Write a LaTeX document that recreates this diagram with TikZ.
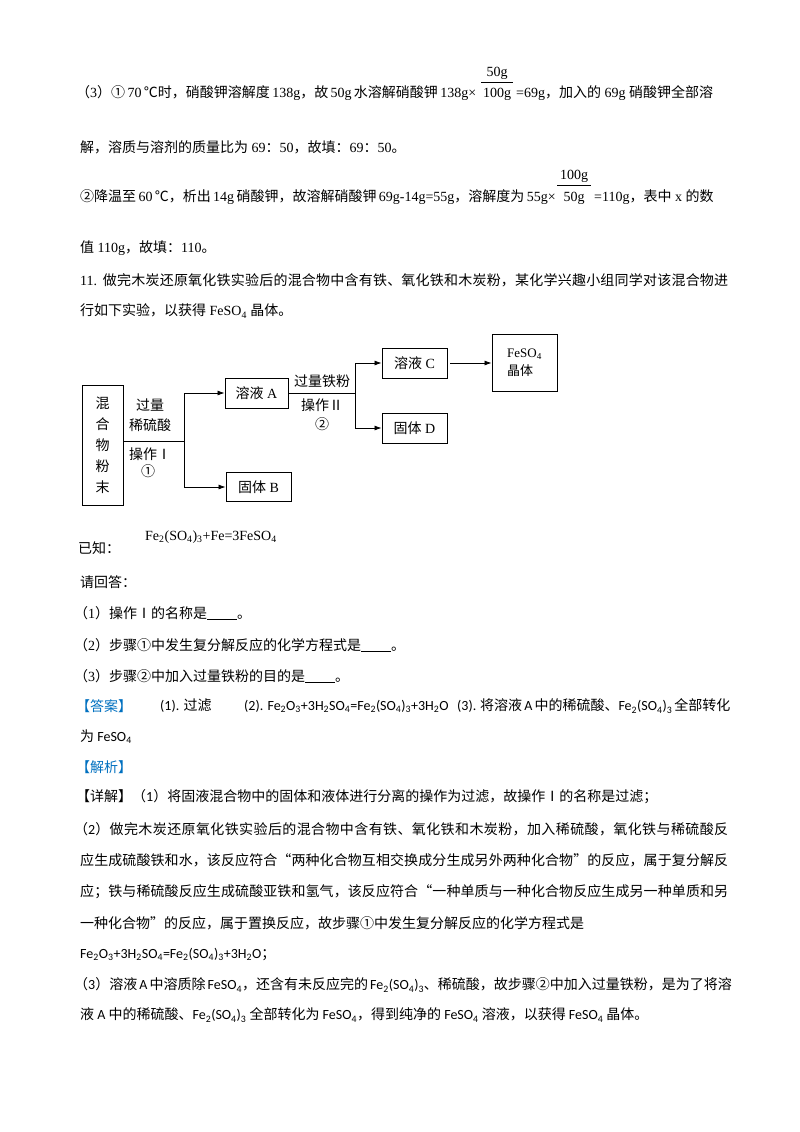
\documentclass[tikz,border=0pt]{standalone}
\usepackage{fontspec}
\usetikzlibrary{arrows.meta}
\setmainfont{Liberation Serif}
\setsansfont{Carlito}
\newfontfamily\cjk{Noto Sans CJK SC}
\let\lat\rmfamily
\newXeTeXintercharclass\CJKcls
\count255="3000
\loop\XeTeXcharclass\count255=\CJKcls\ifnum\count255<"9FFF\advance\count255 by 1\repeat
\count255="FF00
\loop\XeTeXcharclass\count255=\CJKcls\ifnum\count255<"FFEF\advance\count255 by 1\repeat
\count255="2460
\loop\XeTeXcharclass\count255=\CJKcls\ifnum\count255<"2473\advance\count255 by 1\repeat
\count255="2160
\loop\XeTeXcharclass\count255=\CJKcls\ifnum\count255<"216F\advance\count255 by 1\repeat
\XeTeXcharclass"201C=\CJKcls
\XeTeXcharclass"201D=\CJKcls
\XeTeXcharclass"2103=\CJKcls
\XeTeXinterchartoks 0 \CJKcls={\cjk}
\XeTeXinterchartoks 4095 \CJKcls={\cjk}
\XeTeXinterchartoks \CJKcls 0={\lat}
\XeTeXinterchartoks \CJKcls 4095={\lat}
\XeTeXinterchartoks \CJKcls \CJKcls={\hskip0pt plus 1pt\relax}
\XeTeXinterchartokenstate=1
\newcommand\sbs[1]{\textsubscript{#1}}
\newcommand\blank{\rule[-1pt]{30pt}{0.5pt}}
\definecolor{ansblue}{RGB}{0,112,192}
\begin{document}
\begin{tikzpicture}[x=1pt,y=-1pt,
  txt/.style={anchor=west,inner sep=0pt,font=\fontsize{14}{16}\selectfont},
  stxt/.style={anchor=west,inner sep=0pt,font={\fontsize{14}{16}\selectfont\sffamily\def\lat{\sffamily}}},
  ftxt/.style={inner sep=0pt,font=\fontsize{14}{16}\selectfont},
  bx/.style={draw,line width=0.9pt,inner sep=0pt},
  arr/.style={-{Latex[length=7pt,width=5pt]},line width=0.8pt},
  ln/.style={line width=0.8pt}]
\useasboundingbox (0,0) rectangle (800,1132);
\fill[white] (0,0) rectangle (800,1132);
\newcommand\jl[3]{\node[txt] (j#2) at (#1,#2) {\makebox[\dimexpr728pt-#1pt\relax][s]{#3}};}
\newcommand\sjl[3]{\node[stxt] (s#2) at (#1,#2) {\makebox[\dimexpr728pt-#1pt\relax][s]{#3}};}
% top part
\node[txt] (l1) at (76,93) {\makebox[400pt][s]{（3）① 70 ℃时，硝酸钾溶解度 138g，故 50g 水溶解硝酸钾 138g×}};
\node[ftxt] (f1a) at (497,73) {50g};
\node[ftxt] (f1b) at (497,94) {100g};
\draw[line width=0.6pt] (481,82) -- (513,82);
\node[txt] (l1b) at (516,93) {=69g，加入的 69g 硝酸钾全部溶};
\node[txt] (l2) at (80,147) {解，溶质与溶剂的质量比为 69：50，故填：69：50。};
\node[txt] (l3) at (80,197) {\makebox[474pt][s]{②降温至 60 ℃，析出 14g 硝酸钾，故溶解硝酸钾 69g-14g=55g，溶解度为 55g×}};
\node[ftxt] (f2a) at (574,176) {100g};
\node[ftxt] (f2b) at (574,198) {50g};
\draw[line width=0.6pt] (557,185) -- (591,185);
\node[txt] (l3b) at (594,197) {=110g，表中 x 的数};
\node[txt] (l4) at (80,248) {值 110g，故填：110。};
\jl{80}{280}{11. 做完木炭还原氧化铁实验后的混合物中含有铁、氧化铁和木炭粉，某化学兴趣小组同学对该混合物进}
\node[txt] (l6) at (80,311) {行如下实验，以获得 FeSO\sbs{4} 晶体。};
% flowchart
\node[bx,minimum width=41pt,minimum height=120pt,align=center,font=\fontsize{14}{21}\selectfont] (mix) at (102.5,445) {混\\合\\物\\粉\\末};
\node[bx,minimum width=63pt,minimum height=30pt,font=\fontsize{14}{16}\selectfont] (A) at (256.5,393) {溶液 A};
\node[bx,minimum width=65pt,minimum height=29pt,font=\fontsize{14}{16}\selectfont] (B) at (258.5,487) {固体 B};
\node[bx,minimum width=65pt,minimum height=30pt,font=\fontsize{14}{16}\selectfont] (C) at (414.5,363) {溶液 C};
\node[bx,minimum width=65pt,minimum height=30pt,font=\fontsize{14}{16}\selectfont] (D) at (414.5,428) {固体 D};
\node[bx,minimum width=65pt,minimum height=57pt,align=left,font=\fontsize{13}{18}\selectfont] (F) at (524.5,362.5) {FeSO\sbs{4}\\晶体};
\coordinate (j1) at (184,441);
\coordinate (j1a) at (184,393);
\coordinate (j1b) at (184,487);
\draw[ln] (mix.east|-j1) -- (j1);
\draw[ln] (j1a) -- (j1b);
\draw[arr] (j1a) -- (A.west);
\draw[arr] (j1b) -- (B.west);
\coordinate (j2) at (355,393);
\coordinate (j2a) at (355,363);
\coordinate (j2b) at (355,428);
\draw[ln] (A.east) -- (j2);
\draw[ln] (j2a) -- (j2b);
\draw[arr] (j2a) -- (C.west);
\draw[arr] (j2b) -- (D.west);
\draw[arr] ([xshift=3pt]C.east) -- (F.west|-C.east);
\node[ftxt] (t1) at (150,405) {过量};
\node[ftxt] (t2) at (150,425) {稀硫酸};
\node[ftxt] (t3) at (150,454) {操作Ⅰ};
\node[ftxt] (t4) at (148,471) {①};
\node[ftxt] (t5) at (322,381) {过量铁粉};
\node[ftxt] (t6) at (322,405) {操作Ⅱ};
\node[ftxt] (t7) at (322,424) {②};
\node[txt] (yz) at (78,548) {已知：};
\node[txt] (eq) at (145,537) {Fe\sbs{2}(SO\sbs{4})\sbs{3}+Fe=3FeSO\sbs{4}};
\node[txt] (q0) at (80,582) {请回答：};
\node[txt] (q1) at (74,613) {（1）操作Ⅰ的名称是\blank。};
\node[txt] (q2) at (74,645) {（2）步骤①中发生复分解反应的化学方程式是\blank。};
\node[txt] (q3) at (74,676) {（3）步骤②中加入过量铁粉的目的是\blank。};
% answer
\node[stxt,text=ansblue] (a0) at (76,706) {【答案】};
\node[stxt] (a1) at (160,706) {(1). 过滤};
\node[stxt] (a2) at (244,706) {(2). Fe\sbs{2}O\sbs{3}+3H\sbs{2}SO\sbs{4}=Fe\sbs{2}(SO\sbs{4})\sbs{3}+3H\sbs{2}O};
\node[stxt] (a3) at (457,706) {\makebox[271pt][s]{(3). 将溶液 A 中的稀硫酸、Fe\sbs{2}(SO\sbs{4})\sbs{3} 全部转化}};
\node[stxt] (a4) at (80,737) {为 FeSO\sbs{4}};
\node[stxt,text=ansblue] (a5) at (76,767) {【解析】};
\node[stxt] (d1) at (76,797) {【详解】（1）将固液混合物中的固体和液体进行分离的操作为过滤，故操作Ⅰ的名称是过滤；};
\sjl{74}{829}{（2）做完木炭还原氧化铁实验后的混合物中含有铁、氧化铁和木炭粉，加入稀硫酸，氧化铁与稀硫酸反}
\sjl{80}{860}{应生成硫酸铁和水，该反应符合“两种化合物互相交换成分生成另外两种化合物”的反应，属于复分解反}
\sjl{80}{892}{应；铁与稀硫酸反应生成硫酸亚铁和氢气，该反应符合“一种单质与一种化合物反应生成另一种单质和另}
\node[stxt] (d5) at (80,923) {一种化合物”的反应，属于置换反应，故步骤①中发生复分解反应的化学方程式是};
\node[stxt] (d6) at (80,954) {Fe\sbs{2}O\sbs{3}+3H\sbs{2}SO\sbs{4}=Fe\sbs{2}(SO\sbs{4})\sbs{3}+3H\sbs{2}O；};
\sjl{74}{985}{（3）溶液 A 中溶质除 FeSO\sbs{4}，还含有未反应完的 Fe\sbs{2}(SO\sbs{4})\sbs{3}、稀硫酸，故步骤②中加入过量铁粉，是为了将溶}
\node[stxt] (d8) at (80,1015) {液 A 中的稀硫酸、Fe\sbs{2}(SO\sbs{4})\sbs{3} 全部转化为 FeSO\sbs{4}，得到纯净的 FeSO\sbs{4} 溶液，以获得 FeSO\sbs{4} 晶体。};
\end{tikzpicture}
\end{document}
